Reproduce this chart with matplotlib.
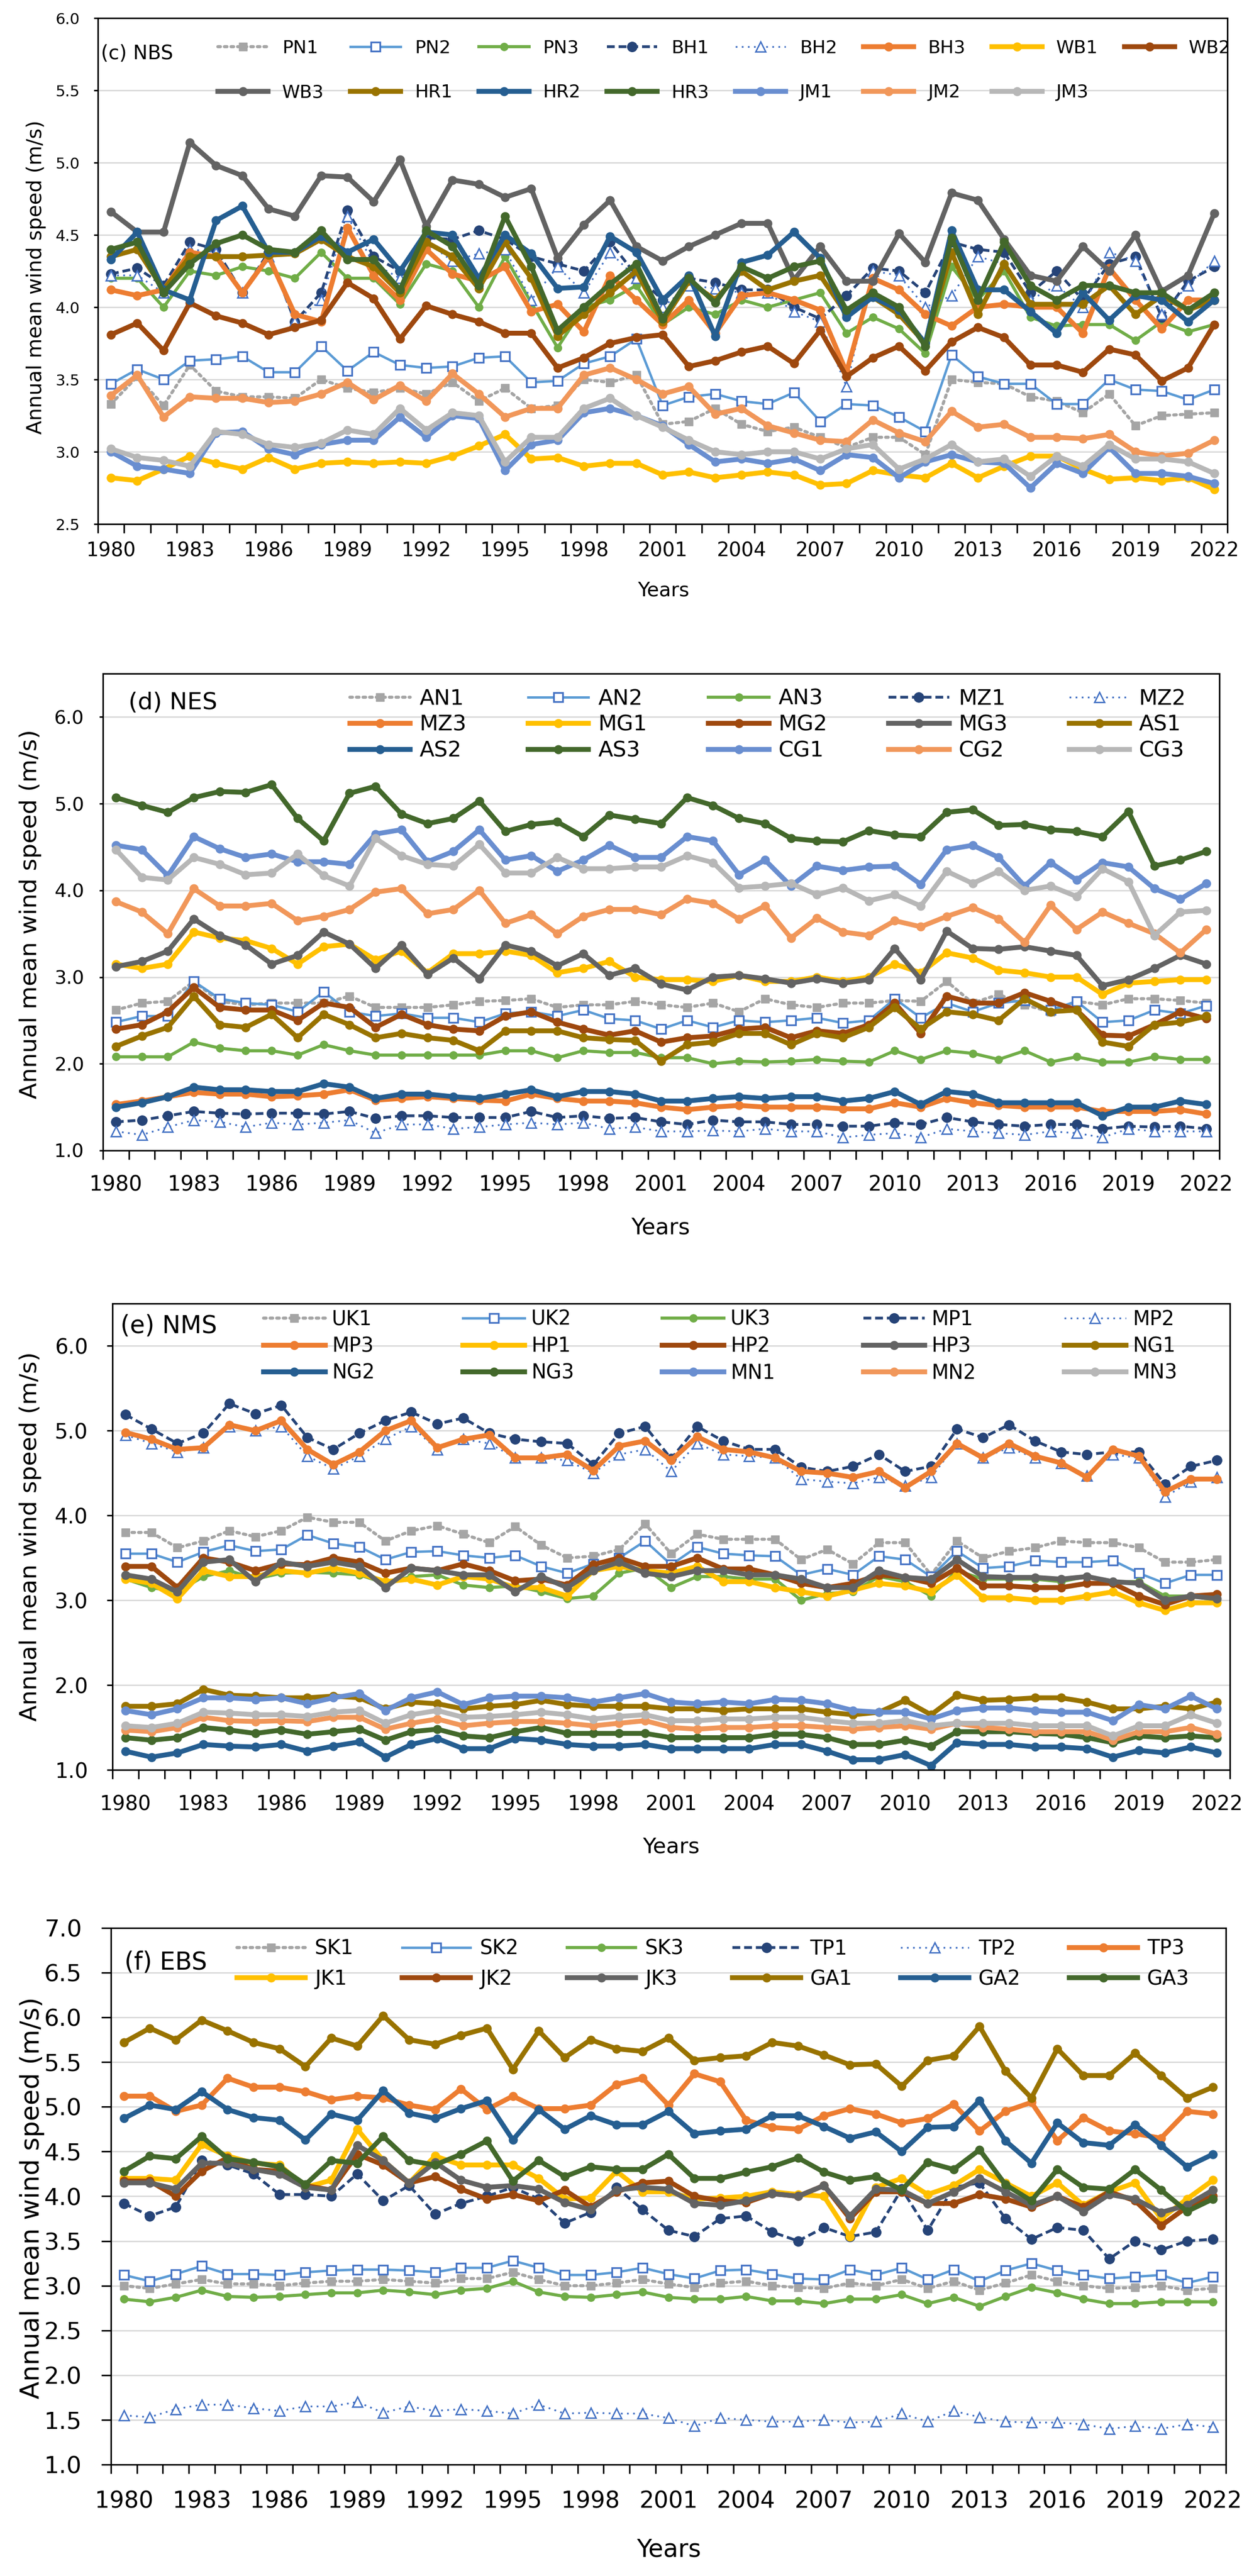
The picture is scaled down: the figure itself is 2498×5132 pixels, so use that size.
import matplotlib
matplotlib.use('Agg')
import matplotlib.pyplot as plt

years = list(range(1980, 2023))

# ---- (c) NBS ----
PN1 = [3.33, 3.52, 3.32, 3.60, 3.42, 3.38, 3.38, 3.37, 3.50, 3.44, 3.41, 3.44, 3.40, 3.48, 3.35, 3.44, 3.30, 3.32, 3.50, 3.48, 3.53, 3.19, 3.21, 3.30, 3.19, 3.14, 3.17, 3.10, 3.03, 3.10, 3.10, 2.98, 3.50, 3.48, 3.47, 3.38, 3.35, 3.27, 3.40, 3.18, 3.25, 3.26, 3.27]
PN2 = [3.47, 3.57, 3.50, 3.63, 3.64, 3.66, 3.55, 3.55, 3.73, 3.56, 3.69, 3.60, 3.58, 3.59, 3.65, 3.66, 3.48, 3.49, 3.61, 3.66, 3.78, 3.32, 3.38, 3.40, 3.35, 3.33, 3.41, 3.21, 3.33, 3.32, 3.24, 3.14, 3.67, 3.52, 3.47, 3.47, 3.33, 3.33, 3.50, 3.43, 3.42, 3.36, 3.43]
PN3 = [4.20, 4.20, 4.00, 4.25, 4.22, 4.28, 4.25, 4.20, 4.38, 4.20, 4.20, 4.02, 4.30, 4.25, 4.00, 4.35, 4.03, 3.72, 4.00, 4.05, 4.15, 3.88, 4.00, 3.95, 4.05, 4.00, 4.05, 4.10, 3.82, 3.93, 3.85, 3.68, 4.28, 4.05, 4.25, 3.93, 3.87, 3.88, 3.88, 3.77, 3.90, 3.83, 3.88]
BH1 = [4.23, 4.27, 4.15, 4.45, 4.40, 4.10, 4.38, 3.90, 4.10, 4.67, 4.35, 4.25, 4.48, 4.47, 4.53, 4.47, 4.35, 4.30, 4.25, 4.45, 4.22, 4.05, 4.20, 4.17, 4.12, 4.12, 4.00, 3.92, 4.08, 4.27, 4.25, 4.10, 4.45, 4.40, 4.38, 4.10, 4.25, 4.05, 4.30, 4.35, 3.93, 4.18, 4.28]
BH2 = [4.22, 4.22, 4.10, 4.40, 4.38, 4.10, 4.35, 3.90, 4.05, 4.63, 4.30, 4.20, 4.45, 4.32, 4.37, 4.40, 4.05, 4.28, 4.10, 4.38, 4.20, 4.00, 4.15, 4.13, 4.10, 4.10, 3.97, 3.90, 3.45, 4.25, 4.22, 4.00, 4.08, 4.35, 4.30, 4.05, 4.15, 4.00, 4.38, 4.32, 3.95, 4.15, 4.32]
BH3 = [4.12, 4.08, 4.12, 4.38, 4.35, 4.10, 4.35, 3.95, 3.90, 4.55, 4.22, 4.05, 4.40, 4.23, 4.18, 4.28, 3.97, 4.02, 3.83, 4.22, 4.05, 3.88, 4.05, 3.82, 4.08, 4.10, 4.05, 3.98, 3.55, 4.20, 4.12, 3.95, 3.87, 4.00, 4.02, 4.00, 4.00, 3.82, 4.27, 4.05, 3.85, 4.05, 4.05]
WB1 = [2.82, 2.80, 2.88, 2.97, 2.92, 2.88, 2.96, 2.88, 2.92, 2.93, 2.92, 2.93, 2.92, 2.97, 3.04, 3.12, 2.95, 2.96, 2.90, 2.92, 2.92, 2.84, 2.86, 2.82, 2.84, 2.86, 2.84, 2.77, 2.78, 2.87, 2.84, 2.82, 2.92, 2.82, 2.90, 2.97, 2.97, 2.88, 2.81, 2.82, 2.80, 2.82, 2.74]
WB2 = [3.81, 3.89, 3.70, 4.03, 3.94, 3.89, 3.81, 3.86, 3.91, 4.17, 4.06, 3.78, 4.01, 3.95, 3.90, 3.82, 3.82, 3.58, 3.65, 3.75, 3.79, 3.81, 3.59, 3.63, 3.69, 3.73, 3.61, 3.84, 3.52, 3.65, 3.73, 3.56, 3.76, 3.86, 3.79, 3.60, 3.60, 3.55, 3.71, 3.67, 3.49, 3.58, 3.88]
WB3 = [4.66, 4.52, 4.52, 5.14, 4.98, 4.91, 4.68, 4.63, 4.91, 4.90, 4.73, 5.02, 4.56, 4.88, 4.85, 4.76, 4.82, 4.34, 4.57, 4.74, 4.42, 4.32, 4.42, 4.50, 4.58, 4.58, 4.19, 4.42, 4.18, 4.18, 4.51, 4.31, 4.79, 4.74, 4.47, 4.22, 4.18, 4.42, 4.25, 4.50, 4.11, 4.22, 4.65]
HR1 = [4.35, 4.40, 4.12, 4.35, 4.35, 4.35, 4.36, 4.37, 4.47, 4.35, 4.28, 4.10, 4.45, 4.35, 4.13, 4.45, 4.20, 3.80, 3.95, 4.10, 4.25, 3.90, 4.18, 4.05, 4.25, 4.12, 4.18, 4.22, 3.95, 4.07, 3.95, 3.75, 4.38, 3.95, 4.30, 4.02, 4.02, 4.02, 4.15, 3.95, 4.08, 3.98, 4.05]
HR2 = [4.33, 4.52, 4.12, 4.05, 4.60, 4.70, 4.38, 4.38, 4.49, 4.38, 4.47, 4.25, 4.52, 4.50, 4.20, 4.50, 4.37, 4.13, 4.14, 4.49, 4.38, 4.05, 4.22, 3.80, 4.31, 4.36, 4.52, 4.34, 3.93, 4.07, 3.98, 3.75, 4.53, 4.12, 4.12, 3.97, 3.82, 4.10, 3.91, 4.08, 4.05, 3.90, 4.05]
HR3 = [4.40, 4.45, 4.10, 4.30, 4.44, 4.50, 4.40, 4.38, 4.53, 4.33, 4.33, 4.12, 4.53, 4.42, 4.15, 4.63, 4.28, 3.84, 4.00, 4.16, 4.30, 3.92, 4.20, 4.03, 4.28, 4.20, 4.28, 4.32, 3.98, 4.10, 4.00, 3.73, 4.48, 4.05, 4.45, 4.15, 4.05, 4.15, 4.15, 4.10, 4.10, 3.98, 4.10]
JM1 = [3.00, 2.90, 2.88, 2.85, 3.13, 3.14, 3.02, 2.98, 3.05, 3.08, 3.08, 3.24, 3.10, 3.25, 3.23, 2.87, 3.05, 3.08, 3.27, 3.30, 3.25, 3.18, 3.05, 2.93, 2.95, 2.92, 2.95, 2.87, 2.98, 2.96, 2.82, 2.93, 2.98, 2.93, 2.92, 2.75, 2.92, 2.85, 3.03, 2.85, 2.85, 2.83, 2.78]
JM2 = [3.39, 3.53, 3.24, 3.38, 3.37, 3.37, 3.34, 3.35, 3.40, 3.48, 3.36, 3.46, 3.35, 3.54, 3.40, 3.24, 3.30, 3.30, 3.53, 3.58, 3.50, 3.40, 3.45, 3.26, 3.30, 3.18, 3.13, 3.08, 3.07, 3.22, 3.13, 3.07, 3.28, 3.17, 3.19, 3.10, 3.10, 3.09, 3.12, 3.00, 2.97, 2.99, 3.08]
JM3 = [3.02, 2.96, 2.94, 2.90, 3.14, 3.12, 3.05, 3.03, 3.06, 3.15, 3.12, 3.30, 3.15, 3.27, 3.25, 2.93, 3.10, 3.10, 3.30, 3.37, 3.25, 3.17, 3.08, 3.00, 2.98, 3.00, 3.00, 2.95, 3.02, 3.05, 2.88, 2.95, 3.05, 2.93, 2.95, 2.83, 2.97, 2.90, 3.05, 2.95, 2.95, 2.93, 2.85]

# ---- (d) NES ----
AN1 = [2.62, 2.70, 2.72, 2.95, 2.72, 2.68, 2.70, 2.70, 2.70, 2.78, 2.65, 2.65, 2.65, 2.68, 2.72, 2.73, 2.75, 2.65, 2.68, 2.68, 2.72, 2.68, 2.65, 2.70, 2.60, 2.75, 2.68, 2.65, 2.70, 2.70, 2.73, 2.72, 2.95, 2.70, 2.80, 2.68, 2.60, 2.72, 2.68, 2.75, 2.75, 2.73, 2.70]
AN2 = [2.48, 2.55, 2.55, 2.95, 2.75, 2.70, 2.68, 2.60, 2.83, 2.60, 2.55, 2.58, 2.53, 2.53, 2.48, 2.58, 2.60, 2.55, 2.62, 2.52, 2.50, 2.40, 2.50, 2.42, 2.50, 2.48, 2.50, 2.53, 2.47, 2.50, 2.75, 2.53, 2.70, 2.60, 2.70, 2.73, 2.62, 2.72, 2.48, 2.50, 2.62, 2.58, 2.67]
AN3 = [2.08, 2.08, 2.08, 2.25, 2.18, 2.15, 2.15, 2.10, 2.22, 2.15, 2.10, 2.10, 2.10, 2.10, 2.10, 2.15, 2.15, 2.07, 2.15, 2.13, 2.13, 2.07, 2.07, 2.00, 2.03, 2.02, 2.03, 2.05, 2.03, 2.02, 2.15, 2.05, 2.15, 2.12, 2.05, 2.15, 2.02, 2.08, 2.02, 2.02, 2.08, 2.05, 2.05]
MZ1 = [1.33, 1.35, 1.40, 1.45, 1.43, 1.42, 1.43, 1.43, 1.42, 1.45, 1.37, 1.40, 1.40, 1.38, 1.38, 1.38, 1.45, 1.38, 1.40, 1.37, 1.38, 1.33, 1.30, 1.35, 1.33, 1.33, 1.30, 1.30, 1.28, 1.28, 1.32, 1.30, 1.38, 1.33, 1.30, 1.28, 1.30, 1.30, 1.25, 1.28, 1.27, 1.28, 1.25]
MZ2 = [1.22, 1.18, 1.27, 1.35, 1.33, 1.27, 1.32, 1.30, 1.32, 1.35, 1.20, 1.30, 1.30, 1.25, 1.27, 1.30, 1.32, 1.30, 1.32, 1.25, 1.27, 1.22, 1.22, 1.23, 1.22, 1.25, 1.22, 1.22, 1.15, 1.18, 1.20, 1.15, 1.25, 1.22, 1.20, 1.18, 1.22, 1.20, 1.15, 1.25, 1.22, 1.22, 1.22]
MZ3 = [1.53, 1.57, 1.62, 1.67, 1.65, 1.65, 1.62, 1.63, 1.65, 1.70, 1.58, 1.60, 1.62, 1.60, 1.58, 1.57, 1.65, 1.60, 1.57, 1.57, 1.55, 1.50, 1.47, 1.50, 1.52, 1.50, 1.50, 1.50, 1.48, 1.48, 1.55, 1.50, 1.60, 1.55, 1.52, 1.50, 1.50, 1.50, 1.45, 1.45, 1.45, 1.47, 1.42]
MG1 = [3.15, 3.10, 3.15, 3.52, 3.45, 3.42, 3.33, 3.15, 3.35, 3.38, 3.20, 3.30, 3.05, 3.27, 3.27, 3.30, 3.25, 3.05, 3.10, 3.18, 3.00, 2.97, 2.97, 2.95, 3.02, 2.95, 2.95, 3.00, 2.95, 3.00, 3.15, 3.05, 3.28, 3.22, 3.08, 3.05, 3.00, 3.00, 2.80, 2.93, 2.95, 2.97, 2.97]
MG2 = [2.40, 2.45, 2.60, 2.88, 2.65, 2.62, 2.62, 2.50, 2.70, 2.65, 2.42, 2.57, 2.45, 2.40, 2.38, 2.55, 2.60, 2.48, 2.40, 2.33, 2.38, 2.25, 2.30, 2.32, 2.40, 2.42, 2.30, 2.38, 2.35, 2.45, 2.70, 2.35, 2.78, 2.70, 2.70, 2.82, 2.72, 2.62, 2.33, 2.32, 2.45, 2.60, 2.52]
MG3 = [3.12, 3.18, 3.30, 3.67, 3.48, 3.37, 3.15, 3.25, 3.52, 3.38, 3.10, 3.37, 3.03, 3.22, 2.98, 3.37, 3.30, 3.13, 3.27, 3.02, 3.10, 2.92, 2.85, 3.00, 3.02, 2.98, 2.93, 2.98, 2.93, 2.97, 3.33, 2.97, 3.53, 3.33, 3.32, 3.35, 3.30, 3.25, 2.90, 2.97, 3.10, 3.25, 3.15]
AS1 = [2.20, 2.32, 2.42, 2.78, 2.45, 2.42, 2.57, 2.30, 2.57, 2.45, 2.30, 2.35, 2.30, 2.27, 2.15, 2.38, 2.38, 2.38, 2.30, 2.28, 2.27, 2.03, 2.22, 2.25, 2.35, 2.35, 2.22, 2.35, 2.30, 2.42, 2.65, 2.40, 2.60, 2.57, 2.50, 2.75, 2.60, 2.62, 2.25, 2.20, 2.45, 2.48, 2.55]
AS2 = [1.50, 1.55, 1.62, 1.73, 1.70, 1.70, 1.68, 1.68, 1.77, 1.73, 1.60, 1.65, 1.65, 1.62, 1.60, 1.65, 1.70, 1.62, 1.68, 1.68, 1.65, 1.57, 1.57, 1.60, 1.62, 1.60, 1.62, 1.62, 1.57, 1.60, 1.68, 1.53, 1.68, 1.65, 1.55, 1.55, 1.55, 1.55, 1.40, 1.50, 1.50, 1.57, 1.53]
AS3 = [5.07, 4.98, 4.90, 5.07, 5.14, 5.13, 5.22, 4.83, 4.57, 5.12, 5.20, 4.88, 4.77, 4.83, 5.03, 4.68, 4.76, 4.79, 4.62, 4.87, 4.82, 4.77, 5.07, 4.98, 4.83, 4.77, 4.60, 4.57, 4.56, 4.69, 4.64, 4.62, 4.90, 4.93, 4.75, 4.76, 4.70, 4.68, 4.62, 4.91, 4.28, 4.35, 4.45]
CG1 = [4.52, 4.47, 4.17, 4.62, 4.48, 4.38, 4.42, 4.33, 4.33, 4.30, 4.65, 4.70, 4.33, 4.45, 4.70, 4.35, 4.40, 4.22, 4.35, 4.52, 4.38, 4.38, 4.62, 4.57, 4.18, 4.35, 4.05, 4.28, 4.23, 4.27, 4.28, 4.07, 4.47, 4.52, 4.38, 4.05, 4.32, 4.12, 4.32, 4.27, 4.02, 3.90, 4.08]
CG2 = [3.87, 3.75, 3.50, 4.02, 3.82, 3.82, 3.85, 3.65, 3.70, 3.78, 3.98, 4.02, 3.73, 3.78, 4.00, 3.62, 3.72, 3.50, 3.70, 3.78, 3.78, 3.72, 3.90, 3.85, 3.67, 3.82, 3.45, 3.68, 3.52, 3.48, 3.65, 3.58, 3.70, 3.80, 3.67, 3.40, 3.83, 3.55, 3.75, 3.62, 3.50, 3.28, 3.55]
CG3 = [4.47, 4.15, 4.12, 4.38, 4.30, 4.18, 4.20, 4.42, 4.17, 4.05, 4.60, 4.40, 4.30, 4.28, 4.53, 4.20, 4.20, 4.38, 4.25, 4.25, 4.27, 4.27, 4.40, 4.32, 4.03, 4.05, 4.08, 3.95, 4.03, 3.88, 3.95, 3.82, 4.22, 4.08, 4.22, 4.00, 4.05, 3.93, 4.25, 4.10, 3.48, 3.75, 3.77]

# ---- (e) NMS ----
UK1 = [3.80, 3.80, 3.62, 3.70, 3.82, 3.75, 3.82, 3.98, 3.92, 3.92, 3.70, 3.82, 3.88, 3.78, 3.68, 3.87, 3.65, 3.50, 3.52, 3.60, 3.90, 3.55, 3.78, 3.72, 3.72, 3.72, 3.48, 3.60, 3.43, 3.68, 3.68, 3.30, 3.70, 3.50, 3.58, 3.62, 3.70, 3.68, 3.68, 3.62, 3.45, 3.45, 3.48]
UK2 = [3.55, 3.55, 3.45, 3.57, 3.65, 3.58, 3.60, 3.77, 3.67, 3.63, 3.48, 3.57, 3.58, 3.53, 3.50, 3.53, 3.40, 3.32, 3.43, 3.50, 3.70, 3.42, 3.63, 3.55, 3.53, 3.52, 3.30, 3.37, 3.30, 3.52, 3.48, 3.28, 3.58, 3.38, 3.40, 3.47, 3.45, 3.45, 3.47, 3.32, 3.20, 3.30, 3.30]
UK3 = [3.25, 3.15, 3.10, 3.28, 3.35, 3.25, 3.32, 3.33, 3.32, 3.30, 3.20, 3.28, 3.30, 3.18, 3.15, 3.17, 3.10, 3.02, 3.05, 3.32, 3.38, 3.15, 3.28, 3.28, 3.25, 3.25, 3.00, 3.08, 3.10, 3.28, 3.22, 3.05, 3.35, 3.25, 3.25, 3.25, 3.22, 3.28, 3.22, 3.22, 3.05, 3.05, 3.00]
MP1 = [5.19, 5.02, 4.85, 4.97, 5.32, 5.20, 5.30, 4.92, 4.78, 4.97, 5.12, 5.22, 5.08, 5.15, 4.97, 4.90, 4.87, 4.85, 4.60, 4.97, 5.05, 4.67, 5.05, 4.88, 4.78, 4.78, 4.57, 4.52, 4.58, 4.72, 4.52, 4.58, 5.02, 4.92, 5.07, 4.88, 4.75, 4.72, 4.75, 4.75, 4.37, 4.58, 4.65]
MP2 = [4.95, 4.85, 4.75, 4.80, 5.05, 5.00, 5.05, 4.70, 4.55, 4.70, 4.90, 5.05, 4.78, 4.90, 4.85, 4.68, 4.68, 4.65, 4.50, 4.72, 4.78, 4.52, 4.85, 4.72, 4.70, 4.68, 4.43, 4.40, 4.38, 4.45, 4.35, 4.45, 4.85, 4.68, 4.80, 4.68, 4.62, 4.47, 4.72, 4.68, 4.22, 4.40, 4.45]
MP3 = [4.98, 4.90, 4.78, 4.80, 5.07, 5.00, 5.12, 4.78, 4.60, 4.75, 5.00, 5.12, 4.80, 4.90, 4.95, 4.68, 4.68, 4.72, 4.53, 4.82, 4.88, 4.65, 4.93, 4.78, 4.75, 4.68, 4.52, 4.50, 4.45, 4.52, 4.33, 4.52, 4.85, 4.68, 4.85, 4.70, 4.62, 4.45, 4.78, 4.70, 4.28, 4.43, 4.43]
HP1 = [3.25, 3.20, 3.02, 3.35, 3.28, 3.28, 3.35, 3.32, 3.38, 3.32, 3.22, 3.25, 3.18, 3.28, 3.25, 3.15, 3.15, 3.05, 3.35, 3.40, 3.35, 3.32, 3.40, 3.22, 3.22, 3.15, 3.10, 3.05, 3.12, 3.20, 3.17, 3.10, 3.30, 3.03, 3.03, 3.00, 3.00, 3.05, 3.10, 2.97, 2.88, 2.97, 2.97]
HP2 = [3.40, 3.40, 3.15, 3.50, 3.45, 3.35, 3.43, 3.42, 3.50, 3.45, 3.32, 3.38, 3.35, 3.43, 3.35, 3.23, 3.25, 3.18, 3.42, 3.50, 3.40, 3.40, 3.50, 3.37, 3.37, 3.30, 3.20, 3.15, 3.20, 3.30, 3.27, 3.20, 3.38, 3.17, 3.17, 3.15, 3.15, 3.20, 3.20, 3.05, 2.95, 3.05, 3.07]
HP3 = [3.30, 3.25, 3.10, 3.45, 3.48, 3.22, 3.45, 3.40, 3.45, 3.40, 3.15, 3.38, 3.35, 3.30, 3.30, 3.10, 3.28, 3.15, 3.35, 3.45, 3.32, 3.28, 3.35, 3.35, 3.30, 3.30, 3.25, 3.15, 3.15, 3.35, 3.27, 3.25, 3.48, 3.28, 3.27, 3.27, 3.25, 3.28, 3.22, 3.20, 3.00, 3.05, 3.02]
NG1 = [1.75, 1.75, 1.78, 1.95, 1.88, 1.87, 1.85, 1.85, 1.87, 1.85, 1.72, 1.80, 1.78, 1.72, 1.75, 1.77, 1.82, 1.77, 1.75, 1.75, 1.75, 1.72, 1.72, 1.70, 1.72, 1.72, 1.72, 1.68, 1.65, 1.68, 1.82, 1.65, 1.88, 1.82, 1.83, 1.85, 1.85, 1.80, 1.72, 1.72, 1.75, 1.72, 1.80]
NG2 = [1.22, 1.15, 1.20, 1.30, 1.28, 1.27, 1.30, 1.22, 1.28, 1.33, 1.15, 1.30, 1.37, 1.25, 1.25, 1.37, 1.35, 1.30, 1.28, 1.28, 1.30, 1.25, 1.25, 1.25, 1.25, 1.30, 1.30, 1.22, 1.12, 1.12, 1.18, 1.05, 1.32, 1.30, 1.30, 1.27, 1.27, 1.25, 1.15, 1.23, 1.20, 1.27, 1.20]
NG3 = [1.38, 1.35, 1.38, 1.50, 1.47, 1.43, 1.47, 1.42, 1.45, 1.48, 1.35, 1.45, 1.48, 1.40, 1.38, 1.45, 1.50, 1.43, 1.43, 1.43, 1.43, 1.38, 1.38, 1.38, 1.38, 1.42, 1.42, 1.38, 1.30, 1.30, 1.35, 1.28, 1.45, 1.45, 1.45, 1.43, 1.42, 1.38, 1.32, 1.40, 1.38, 1.40, 1.38]
MN1 = [1.70, 1.65, 1.72, 1.85, 1.85, 1.83, 1.85, 1.78, 1.85, 1.90, 1.70, 1.85, 1.92, 1.77, 1.85, 1.87, 1.87, 1.85, 1.80, 1.85, 1.90, 1.80, 1.78, 1.80, 1.78, 1.83, 1.82, 1.78, 1.70, 1.68, 1.68, 1.60, 1.70, 1.73, 1.73, 1.70, 1.68, 1.68, 1.58, 1.77, 1.72, 1.87, 1.72]
MN2 = [1.47, 1.45, 1.50, 1.62, 1.58, 1.57, 1.58, 1.57, 1.62, 1.62, 1.48, 1.55, 1.60, 1.52, 1.55, 1.57, 1.57, 1.55, 1.52, 1.55, 1.58, 1.50, 1.48, 1.50, 1.50, 1.52, 1.52, 1.50, 1.48, 1.50, 1.52, 1.48, 1.55, 1.50, 1.48, 1.45, 1.45, 1.45, 1.35, 1.45, 1.45, 1.50, 1.42]
MN3 = [1.52, 1.50, 1.55, 1.68, 1.67, 1.65, 1.65, 1.63, 1.68, 1.70, 1.55, 1.65, 1.70, 1.62, 1.63, 1.65, 1.68, 1.65, 1.60, 1.63, 1.65, 1.58, 1.58, 1.60, 1.60, 1.62, 1.62, 1.58, 1.55, 1.55, 1.58, 1.52, 1.55, 1.55, 1.55, 1.52, 1.52, 1.52, 1.40, 1.52, 1.52, 1.65, 1.55]

# ---- (f) EBS ----
SK1 = [3.00, 2.97, 3.02, 3.07, 3.02, 3.02, 3.00, 3.03, 3.05, 3.05, 3.07, 3.05, 3.03, 3.08, 3.08, 3.15, 3.07, 3.00, 3.00, 3.03, 3.07, 3.02, 2.98, 3.03, 3.05, 3.00, 2.98, 2.97, 3.03, 3.00, 3.07, 2.97, 3.05, 2.95, 3.03, 3.12, 3.05, 3.00, 2.97, 2.98, 3.00, 2.95, 2.97]
SK2 = [3.12, 3.05, 3.13, 3.22, 3.13, 3.13, 3.12, 3.15, 3.17, 3.18, 3.18, 3.17, 3.15, 3.20, 3.20, 3.28, 3.20, 3.12, 3.12, 3.15, 3.20, 3.13, 3.08, 3.17, 3.18, 3.13, 3.08, 3.07, 3.18, 3.12, 3.20, 3.07, 3.18, 3.05, 3.17, 3.25, 3.17, 3.12, 3.08, 3.10, 3.12, 3.03, 3.10]
SK3 = [2.85, 2.82, 2.87, 2.95, 2.88, 2.87, 2.88, 2.90, 2.92, 2.92, 2.95, 2.93, 2.90, 2.95, 2.97, 3.05, 2.93, 2.88, 2.87, 2.90, 2.93, 2.87, 2.85, 2.85, 2.88, 2.83, 2.83, 2.80, 2.85, 2.85, 2.90, 2.80, 2.87, 2.77, 2.88, 2.98, 2.92, 2.85, 2.80, 2.80, 2.82, 2.82, 2.82]
TP1 = [3.92, 3.78, 3.88, 4.40, 4.35, 4.25, 4.02, 4.02, 4.00, 4.25, 3.95, 4.12, 3.80, 3.92, 4.00, 4.10, 3.97, 3.70, 3.82, 4.10, 3.85, 3.62, 3.55, 3.75, 3.78, 3.60, 3.50, 3.65, 3.55, 3.60, 4.08, 3.62, 4.10, 4.15, 3.75, 3.52, 3.65, 3.62, 3.30, 3.50, 3.40, 3.50, 3.52]
TP2 = [1.55, 1.53, 1.62, 1.67, 1.67, 1.63, 1.60, 1.65, 1.65, 1.70, 1.58, 1.65, 1.60, 1.62, 1.60, 1.57, 1.67, 1.57, 1.58, 1.57, 1.57, 1.52, 1.43, 1.52, 1.50, 1.48, 1.48, 1.50, 1.47, 1.48, 1.57, 1.48, 1.60, 1.53, 1.48, 1.47, 1.47, 1.45, 1.40, 1.43, 1.40, 1.45, 1.42]
TP3 = [5.12, 5.12, 4.95, 5.02, 5.32, 5.22, 5.22, 5.17, 5.08, 5.12, 5.10, 5.02, 4.97, 5.20, 4.97, 5.12, 4.98, 4.98, 5.02, 5.25, 5.32, 5.02, 5.37, 5.28, 4.85, 4.77, 4.75, 4.90, 4.98, 4.92, 4.82, 4.87, 5.03, 4.73, 4.95, 5.05, 4.62, 4.88, 4.73, 4.70, 4.65, 4.95, 4.92]
JK1 = [4.20, 4.20, 4.18, 4.58, 4.45, 4.37, 4.35, 4.10, 4.18, 4.75, 4.40, 4.15, 4.45, 4.35, 4.35, 4.35, 4.20, 3.97, 3.98, 4.28, 4.05, 4.05, 3.97, 3.98, 4.00, 4.05, 4.02, 4.00, 3.55, 4.10, 4.20, 4.02, 4.12, 4.30, 4.15, 4.00, 4.15, 3.90, 4.05, 4.15, 3.75, 3.97, 4.18]
JK2 = [4.17, 4.17, 4.00, 4.28, 4.43, 4.30, 4.28, 4.12, 4.07, 4.47, 4.35, 4.15, 4.22, 4.08, 3.97, 4.02, 3.95, 4.07, 3.88, 4.05, 4.15, 4.17, 4.00, 3.95, 3.93, 4.03, 4.00, 4.12, 3.75, 4.05, 4.05, 3.92, 3.92, 4.02, 3.97, 3.88, 4.00, 3.88, 4.05, 3.95, 3.67, 3.88, 4.00]
JK3 = [4.15, 4.15, 4.08, 4.37, 4.37, 4.30, 4.25, 4.10, 4.07, 4.57, 4.40, 4.15, 4.38, 4.18, 4.10, 4.12, 4.08, 3.93, 3.85, 4.07, 4.10, 4.08, 3.92, 3.90, 3.95, 4.03, 4.00, 4.12, 3.78, 4.08, 4.07, 3.92, 4.05, 4.20, 4.05, 3.90, 4.00, 3.83, 4.02, 3.97, 3.82, 3.90, 4.07]
GA1 = [5.72, 5.88, 5.75, 5.97, 5.85, 5.72, 5.65, 5.45, 5.77, 5.68, 6.02, 5.75, 5.70, 5.80, 5.88, 5.42, 5.85, 5.55, 5.75, 5.65, 5.62, 5.77, 5.52, 5.55, 5.57, 5.72, 5.68, 5.58, 5.47, 5.48, 5.23, 5.52, 5.57, 5.90, 5.40, 5.10, 5.65, 5.35, 5.35, 5.60, 5.35, 5.10, 5.22]
GA2 = [4.87, 5.02, 4.97, 5.17, 4.97, 4.88, 4.85, 4.63, 4.92, 4.85, 5.18, 4.93, 4.87, 4.98, 5.07, 4.63, 4.97, 4.75, 4.90, 4.80, 4.80, 4.95, 4.70, 4.73, 4.75, 4.90, 4.90, 4.78, 4.65, 4.72, 4.50, 4.77, 4.78, 5.07, 4.62, 4.37, 4.82, 4.60, 4.57, 4.80, 4.57, 4.33, 4.47]
GA3 = [4.28, 4.45, 4.42, 4.67, 4.42, 4.38, 4.33, 4.13, 4.40, 4.37, 4.67, 4.40, 4.35, 4.47, 4.62, 4.17, 4.40, 4.22, 4.33, 4.30, 4.30, 4.47, 4.20, 4.20, 4.27, 4.33, 4.43, 4.27, 4.18, 4.22, 4.07, 4.38, 4.30, 4.52, 4.13, 3.95, 4.30, 4.10, 4.08, 4.30, 4.07, 3.83, 3.97]

nbs_names = ['PN1', 'PN2', 'PN3', 'BH1', 'BH2', 'BH3', 'WB1', 'WB2', 'WB3', 'HR1', 'HR2', 'HR3', 'JM1', 'JM2', 'JM3']
nbs_vals = [PN1, PN2, PN3, BH1, BH2, BH3, WB1, WB2, WB3, HR1, HR2, HR3, JM1, JM2, JM3]
nes_names = ['AN1', 'AN2', 'AN3', 'MZ1', 'MZ2', 'MZ3', 'MG1', 'MG2', 'MG3', 'AS1', 'AS2', 'AS3', 'CG1', 'CG2', 'CG3']
nes_vals = [AN1, AN2, AN3, MZ1, MZ2, MZ3, MG1, MG2, MG3, AS1, AS2, AS3, CG1, CG2, CG3]
nms_names = ['UK1', 'UK2', 'UK3', 'MP1', 'MP2', 'MP3', 'HP1', 'HP2', 'HP3', 'NG1', 'NG2', 'NG3', 'MN1', 'MN2', 'MN3']
nms_vals = [UK1, UK2, UK3, MP1, MP2, MP3, HP1, HP2, HP3, NG1, NG2, NG3, MN1, MN2, MN3]
ebs_names = ['SK1', 'SK2', 'SK3', 'TP1', 'TP2', 'TP3', 'JK1', 'JK2', 'JK3', 'GA1', 'GA2', 'GA3']
ebs_vals = [SK1, SK2, SK3, TP1, TP2, TP3, JK1, JK2, JK3, GA1, GA2, GA3]

# excel-like colours, same slot -> same look in every panel
colors = ['#A5A5A5', '#5B9BD5', '#70AD47', '#264478', '#4472C4', '#ED7D31', '#FFC000', '#9E480E',
          '#636363', '#997300', '#255E91', '#43682B', '#698ED0', '#F1975A', '#B7B7B7']


def style(i):
    c = colors[i]
    if i == 0:
        return dict(color=c, lw=4.5, ls=(0, (0.8, 1.3)), dash_capstyle='round', marker='s', ms=12, mfc=c, mec=c)
    if i == 1:
        return dict(color=c, lw=3.5, marker='s', ms=13, mfc='white', mec='#4472C4', mew=2.5)
    if i == 2:
        return dict(color=c, lw=4.5, marker='o', ms=11, mfc=c, mec=c)
    if i == 3:
        return dict(color=c, lw=4, ls=(0, (2.8, 1.4)), marker='o', ms=14, mfc=c, mec=c)
    if i == 4:
        return dict(color=c, lw=2.5, ls=(0, (1, 2.5)), marker='^', ms=15, mfc='white', mec=c, mew=2)
    return dict(color=c, lw=7, marker='o', ms=12, mfc=c, mec=c)


W, H = 2498, 5132
fig = plt.figure(figsize=(W / 100, H / 100), dpi=100)


def fx(px):
    return px / W


def fy(py):
    return 1 - py / H


def panel(rect, names, vals, ylim, yticks, tag, tag_xy, tag_fs, leg_xy, ncol, leg_fs, hl, htp, cs, ls,
          xfs, xpad, yfs, ypad, ytl, ylab_xy, ylab_fs, yr_xy, yr_fs):
    l, t, r, b = rect
    ax = fig.add_axes([fx(l), fy(b), (r - l) / W, (b - t) / H])
    lines = []
    for i, (n, v) in enumerate(zip(names, vals)):
        ln, = ax.plot(years, v, label=n, **style(i))
        lines.append(ln)

    ax.set_xlim(1979.5, 2022.5)
    ax.set_xticks(range(1980, 2023, 3))
    # excel puts the tick marks between the categories
    ax.set_xticks([y - 0.5 for y in range(1980, 2024)], minor=True)
    ax.set_ylim(*ylim)
    ax.set_yticks(yticks)
    ax.yaxis.set_major_formatter('{x:.1f}')
    ax.grid(axis='y', color='#D9D9D9', lw=2)
    ax.set_axisbelow(True)
    for s in ax.spines.values():
        s.set_color('black')
        s.set_linewidth(2.2)
    ax.tick_params(axis='x', which='minor', length=13, width=2.2, direction='out')
    ax.tick_params(axis='x', which='major', length=0, labelsize=xfs, pad=xpad)
    ax.tick_params(axis='y', length=ytl, width=2.2, labelsize=yfs, pad=ypad)

    # legend rows go across, matplotlib fills columns -> reorder
    n = len(lines)
    nrows = -(-n // ncol)
    order = [rr * ncol + cc for cc in range(ncol) for rr in range(nrows) if rr * ncol + cc < n]
    ax.legend([lines[k] for k in order], [names[k] for k in order], loc='upper left',
              bbox_to_anchor=(fx(leg_xy[0]), fy(leg_xy[1])), bbox_transform=fig.transFigure,
              ncol=ncol, frameon=False, fontsize=leg_fs, handlelength=hl, handletextpad=htp,
              columnspacing=cs, labelspacing=ls, borderpad=0, borderaxespad=0, numpoints=1)

    fig.text(fx(tag_xy[0]), fy(tag_xy[1]), tag, fontsize=tag_fs, ha='left', va='center')
    fig.text(fx(ylab_xy[0]), fy(ylab_xy[1]), 'Annual mean wind speed (m/s)', fontsize=ylab_fs,
             rotation=90, ha='center', va='center')
    fig.text(fx(yr_xy[0]), fy(yr_xy[1]), 'Years', fontsize=yr_fs, ha='center', va='center')
    return ax


panel((195, 36, 2445, 1044), nbs_names, nbs_vals, (2.5, 6.0), [2.5 + 0.5 * k for k in range(8)],
      '(c) NBS', (201, 107), 28, (434, 79), 8, 26, 2.77, 0.78, 1.45, 1.5,
      28, 25, 22, 20, 6, (72, 552), 29, (1321, 1177), 28)

panel((205, 1342, 2429, 2292), nes_names, nes_vals, (1.0, 6.5), [1, 2, 3, 4, 5, 6],
      '(d) NES', (256, 1400), 34, (697, 1371), 5, 31, 2.79, 0.44, 2.84, 0.23,
      30, 34, 27, 22, 5, (61, 1821), 34, (1316, 2446), 32)

panel((224, 2597, 2450, 3526), nms_names, nms_vals, (1.0, 6.5), [1, 2, 3, 4, 5, 6],
      '(e) NMS', (240, 2642), 35, (525, 2609), 5, 28.5, 3.1, 0.33, 4.44, 0.34,
      29, 35.5, 30, 27, 8, (61, 3061), 34, (1337, 3680), 31)

panel((221, 3841, 2442, 4910), ebs_names, ebs_vals, (1.0, 7.0), [1.0 + 0.5 * k for k in range(13)],
      '(f) EBS', (248, 3909), 35, (472, 3863), 6, 29, 3.37, 0.47, 2.4, 0.5,
      33, 37, 34, 28, 14, (64, 4379), 37, (1332, 5079), 35)

fig.savefig('out.png', dpi=100, facecolor='white')
